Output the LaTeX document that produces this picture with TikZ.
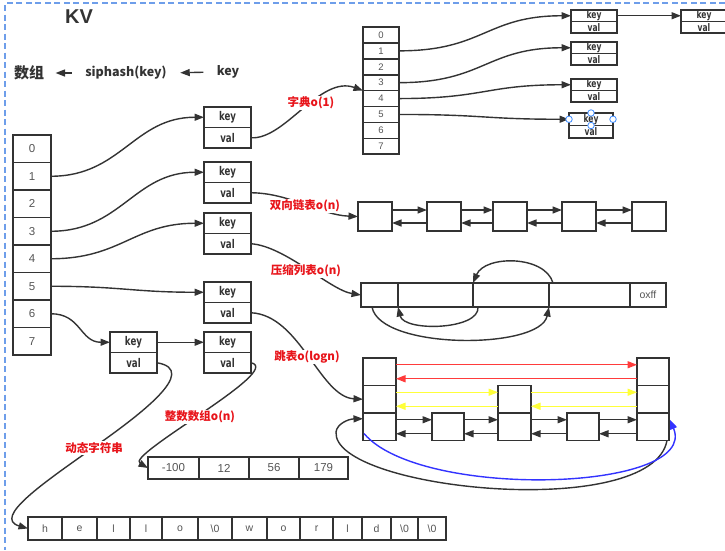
\documentclass[tikz,border=0pt]{standalone}
\usepackage{fontspec}
\setmainfont{Liberation Sans}
\newfontfamily\cjk{Noto Sans CJK SC}
\newfontfamily\kvf{DejaVu Sans}[FakeStretch=0.72]
\usetikzlibrary{arrows.meta}
\definecolor{ln}{HTML}{333333}
\definecolor{tx}{HTML}{555555}
\definecolor{rd}{HTML}{FF3B3B}
\definecolor{yl}{HTML}{FFFF3A}
\definecolor{bl}{HTML}{3333FF}
\definecolor{brd}{HTML}{6E9EEA}
\definecolor{lbl}{HTML}{E8141A}
\definecolor{hb}{HTML}{3D8BFF}
\newcommand\bzero{\textbackslash0}
\newcommand\kvbox[6]{% name, x, y, width, cell height, font size
  \node[kvc, font=\kvf\bfseries\fontsize{#6}{#6}\selectfont, minimum width=#4pt, minimum height=#5pt, anchor=north west] (#1k) at (#2,#3) {key};
  \node[kvc, font=\kvf\bfseries\fontsize{#6}{#6}\selectfont, minimum width=#4pt, minimum height=#5pt, anchor=north] (#1v) at (#1k.south) {val};}
\begin{document}
\begin{tikzpicture}[x=1pt,y=-1pt,
  box/.style={draw=ln, line width=1.6pt, inner sep=0pt, outer sep=0pt, anchor=north west, text=tx},
  kvc/.style={draw=ln, line width=1.6pt, inner sep=0pt, outer sep=0pt, text=ln},
  arr/.style={draw=ln, line width=1.4pt, -{Triangle[length=9.5pt,width=7pt]}},
  carr/.style={line width=1.4pt, -{Triangle[length=9.5pt,width=7pt]}},
  lab/.style={font=\cjk\bfseries\fontsize{11.5}{11.5}\selectfont, text=lbl, fill=white, inner sep=1pt},
  handle/.style={circle, draw=hb, fill=white, line width=0.8pt, minimum size=6.5pt, inner sep=0pt}]
\useasboundingbox (0,0) rectangle (725,550);
\fill[white] (0,0) rectangle (725,550);
\draw[brd, line width=1.3pt, dash pattern=on 6pt off 3.5pt] (725,3) -- (5,3) -- (5,550);

% title and hash line
\node[font=\bfseries\fontsize{20}{20}\selectfont, text=ln] (kv) at (79,17) {KV};
\node[font=\cjk\bfseries\fontsize{15}{15}\selectfont, text=ln] (sz) at (29,73) {数组};
\node[font=\cjk\bfseries\fontsize{12.5}{12.5}\selectfont, text=ln] (sh) at (126,73) {siphash(key)};
\node[font=\cjk\bfseries\fontsize{12.5}{12.5}\selectfont, text=ln] (ky) at (228,72) {key};
\draw[arr, shorten <=10pt, shorten >=8pt] (sh.west) -- (sz.east);
\draw[arr, shorten <=10pt, shorten >=10pt] (ky.west) -- (sh.east);

% main array
\foreach \i in {0,...,7}
  \node[box, font=\fontsize{11.5}{11.5}\selectfont, minimum width=38pt, minimum height=27.5pt] (m\i) at (13,{135+27.5*\i}) {\i};

% key/val boxes
\kvbox{A}{204}{107}{47}{20.5}{12}
\kvbox{B}{204}{162}{47}{20.5}{12}
\kvbox{C}{204}{213}{47}{20.5}{12}
\kvbox{D}{204}{282}{47}{20.5}{12}
\kvbox{E}{204}{332}{47}{20.5}{12}
\kvbox{F}{110}{332}{47}{20.5}{12}

% dict array
\foreach \i in {0,...,7}
  \node[box, font=\fontsize{9.5}{9.5}\selectfont, minimum width=36pt, minimum height=15.9pt] (d\i) at (363,{27+15.9*\i}) {\i};
\kvbox{Da}{571}{10}{46}{11.5}{10.5}
\kvbox{Db}{681}{10}{46}{11.5}{10.5}
\kvbox{Dc}{571}{42}{46}{11.5}{10.5}
\kvbox{Dd}{571}{79}{46}{11.5}{10.5}
\kvbox{De}{569}{113}{44}{12.5}{10.5}

% doubly linked list
\foreach \n/\x in {1/358,2/427,3/493,4/562,5/632}
  \node[box, minimum width=34pt, minimum height=29pt] (L\n) at (\x,202) {};
\foreach \a/\b in {1/2,2/3,3/4,4/5}{
  \draw[arr] ([yshift=6.5pt]L\a.east) -- ([yshift=6.5pt]L\b.west);
  \draw[arr] ([yshift=-6.5pt]L\b.west) -- ([yshift=-6.5pt]L\a.east);}

% ziplist
\node[box, minimum width=37pt, minimum height=24pt] (z1) at (361,283) {};
\node[box, minimum width=75pt, minimum height=24pt] (z2) at (398,283) {};
\node[box, minimum width=76pt, minimum height=24pt] (z3) at (473,283) {};
\node[box, minimum width=81pt, minimum height=24pt] (z4) at (549,283) {};
\node[box, font=\fontsize{10.5}{10.5}\selectfont, minimum width=36pt, minimum height=24pt] (z5) at (630,283) {oxff};
\coordinate (zt) at ([xshift=4pt]z3.north east);
\coordinate (zb1) at ([xshift=5pt]z2.south east);
\coordinate (zb2) at ([xshift=11pt]z1.south west);
\draw[arr] (zt) .. controls +(-8,-28) and +(12,-28) .. (z2.north east);
\draw[arr] (zb1) .. controls +(2,23) and +(6,25) .. (z1.south east);
\draw[arr] (zb2) .. controls +(8,43) and +(-9,43) .. (z3.south east);

% skiplist
\foreach \r/\y in {a/358,b/385.5,c/413}{
  \node[box, minimum width=33pt, minimum height=27.5pt] (s1\r) at (363,\y) {};
  \node[box, minimum width=32pt, minimum height=27.5pt] (s5\r) at (637,\y) {};}
\node[box, minimum width=33pt, minimum height=27.5pt] (s3b) at (498,385.5) {};
\node[box, minimum width=33pt, minimum height=27.5pt] (s3c) at (498,413) {};
\node[box, minimum width=32pt, minimum height=27.5pt] (s2c) at (432,413) {};
\node[box, minimum width=32pt, minimum height=27.5pt] (s4c) at (567,413) {};
\draw[carr, draw=rd, color=rd] ([yshift=7pt]s1a.east) -- ([yshift=7pt]s5a.west);
\draw[carr, draw=rd, color=rd] ([yshift=-7pt]s5a.west) -- ([yshift=-7pt]s1a.east);
\draw[carr, draw=yl, color=yl] ([yshift=7pt]s1b.east) -- ([yshift=7pt]s3b.west);
\draw[carr, draw=yl, color=yl] ([yshift=7pt]s3b.east) -- ([yshift=7pt]s5b.west);
\draw[carr, draw=yl, color=yl] ([yshift=-7pt]s3b.west) -- ([yshift=-7pt]s1b.east);
\draw[carr, draw=yl, color=yl] ([yshift=-7pt]s5b.west) -- ([yshift=-7pt]s3b.east);
\foreach \a/\b in {s1c/s2c,s2c/s3c,s3c/s4c,s4c/s5c}{
  \draw[arr] ([yshift=7pt]\a.east) -- ([yshift=7pt]\b.west);
  \draw[arr] ([yshift=-7pt]\b.west) -- ([yshift=-7pt]\a.east);}
\coordinate (bk0) at ([xshift=-2pt]s5c.south east);
\coordinate (bk1) at ([yshift=8pt]s1c.west);
\draw[arr] (bk0) .. controls (652,522) and (332,490) .. (336,432) .. controls (337,424) and (348,419) .. (bk1);
\coordinate (bu0) at ([xshift=1pt,yshift=7pt]s1c.south west);
\coordinate (bu1) at ([xshift=1pt,yshift=7pt]s5c.east);
\draw[carr, draw=bl, color=bl] (bu0) .. controls (420,500) and (700,492) .. (bu1);

% int array
\foreach \n/\x/\w/\t in {1/148/51/-100,2/199/50/12,3/249/50/56,4/299/49/179}
  \node[box, font=\fontsize{11.5}{11.5}\selectfont, minimum width=\w pt, minimum height=22pt] (i\n) at (\x,457) {\t};

% hello string
\foreach \n/\a/\b/\t in {1/28/62/h,2/62/97/e,3/97/130/l,4/130/162/l,5/162/198/o,6/198/232/\bzero,7/232/267/w,8/267/300/o,9/300/333/r,10/333/362/l,11/362/391/d,12/391/418/\bzero,13/418/446/\bzero}
  \node[box, font=\fontsize{10.5}{10.5}\selectfont, minimum width={(\b-\a)*1pt}, minimum height=23pt] (h\n) at (\a,517) {\t};

% connectors from main array
\draw[arr] (m1.east) .. controls +(70,0) and +(-70,0) .. (Ak.west);
\draw[arr] (m3.east) .. controls +(70,0) and +(-70,0) .. (Bk.west);
\draw[arr] (m4.east) .. controls +(70,0) and +(-70,0) .. (Ck.west);
\draw[arr] (m5.east) .. controls +(70,0) and +(-70,0) .. (Dk.west);
\draw[arr] (m6.east) .. controls +(30,0) and +(-30,0) .. (Fk.west);
\draw[arr] (Fk.east) -- (Ek.west);

% from values
\draw[arr] (Av.east) .. controls (285,140) and (320,75) .. (d3.south west);
\draw[arr] (Bv.east) .. controls (290,193) and (320,215) .. (L1.west);
\draw[arr] (Cv.east) .. controls (285,246) and (330,290) .. (z1.west);
\draw[arr] (Dv.east) .. controls (300,315) and (320,397) .. (s1b.west);
\draw[arr] (Ev.east) .. controls (285,370) and (125,455) .. (i1.west);
\draw[arr] (Fv.east) .. controls (200,370) and (140,415) .. (90,450) .. controls (45,482) and (-8,518) .. (h1.west);

% dict connectors
\draw[arr] (d1.east) .. controls +(85,0) and +(-85,0) .. (Dak.west);
\draw[arr] (Dak.east) -- (Dbk.west);
\draw[arr] (d3.east) .. controls +(85,0) and +(-85,0) .. (Dck.west);
\draw[arr] (d4.east) .. controls +(85,0) and +(-85,0) .. (Ddk.west);
\draw[arr] (d5.east) .. controls +(85,0) and +(-85,0) .. (Dek.west);

% selection handles
\node[handle] (hd1) at (Dek.west) {};
\node[handle] (hd2) at (Dek.east) {};
\node[handle] (hd3) at (Dek.north) {};
\node[handle] (hd4) at (Dek.south) {};

% labels
\node[lab] (t1) at (311,103) {字典o(1)};
\node[lab] (t2) at (305,206) {双向链表o(n)};
\node[lab] (t3) at (306,271) {压缩列表o(n)};
\node[lab] (t4) at (307,357) {跳表o(logn)};
\node[lab] (t5) at (200,417) {整数数组o(n)};
\node[lab] (t6) at (94,448) {动态字符串};
\end{tikzpicture}
\end{document}
